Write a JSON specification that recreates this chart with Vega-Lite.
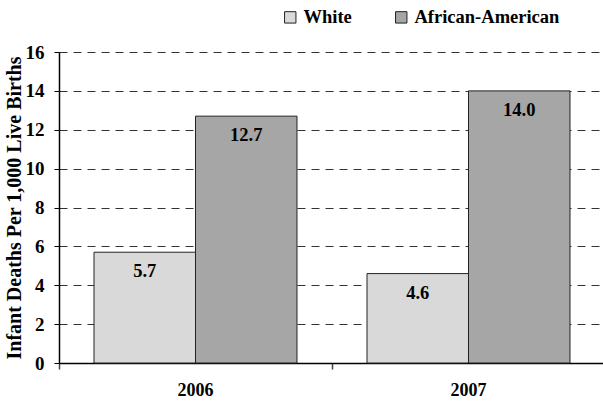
{
  "$schema": "https://vega.github.io/schema/vega-lite/v6.json",
  "width": 546,
  "height": 311,
  "autosize": "none",
  "padding": {"left": 59, "top": 52, "right": 0, "bottom": 38},
  "background": "white",
  "config": {
    "font": "'Liberation Serif', 'Times New Roman', serif",
    "view": {"stroke": null}
  },
  "data": {
    "values": [
      {"year": "2006", "race": "White", "rate": 5.7},
      {"year": "2006", "race": "African-American", "rate": 12.7},
      {"year": "2007", "race": "White", "rate": 4.6},
      {"year": "2007", "race": "African-American", "rate": 14.0}
    ]
  },
  "encoding": {
    "x": {
      "field": "year", "type": "nominal",
      "scale": {"paddingInner": 0, "paddingOuter": 0},
      "axis": {
        "title": null, "labelAngle": 0, "labelFont": "'Liberation Serif', 'Times New Roman', serif", "labelFontWeight": "bold",
        "labelFontSize": 18, "labelColor": "black", "labelPadding": 12,
        "domainColor": "black", "domainWidth": 1.5, "tickColor": "#444", "tickSize": 6, "tickWidth": 1.5,
        "bandPosition": 0, "grid": false
      }
    },
    "xOffset": {
      "field": "race", "type": "nominal",
      "sort": ["White", "African-American"],
      "scale": {"paddingInner": 0, "paddingOuter": 0.345}
    },
    "y": {
      "field": "rate", "type": "quantitative",
      "scale": {"domain": [0, 16]},
      "axis": {
        "title": "Infant Deaths Per 1,000 Live Births",
        "titleFont": "'Liberation Serif', 'Times New Roman', serif", "titleFontSize": 20, "titleFontWeight": "bold", "titleColor": "black",
        "titlePadding": 1,
        "values": [0, 2, 4, 6, 8, 10, 12, 14, 16],
        "labelFont": "'Liberation Serif', 'Times New Roman', serif", "labelFontSize": 19, "labelFontWeight": "bold", "labelColor": "black",
        "labelPadding": 10,
        "domainColor": "black", "domainWidth": 1.5, "tickColor": "black", "tickSize": 5,
        "grid": true, "gridColor": "#333", "gridDash": [8, 6], "gridWidth": 1
      }
    }
  },
  "layer": [
    {
      "mark": {"type": "bar", "stroke": "#222", "strokeWidth": 1},
      "encoding": {
        "color": {
          "field": "race", "type": "nominal",
          "sort": ["White", "African-American"],
          "scale": {"domain": ["White", "African-American"], "range": ["#D9D9D9", "#A6A6A6"]},
          "legend": {
            "title": null, "orient": "none", "legendX": 222, "legendY": -44,
            "direction": "horizontal", "columnPadding": 40,
            "symbolType": "square", "symbolSize": 130, "symbolStrokeColor": "#222", "symbolStrokeWidth": 1,
            "labelFont": "'Liberation Serif', 'Times New Roman', serif", "labelFontSize": 18.5, "labelFontWeight": "bold", "labelColor": "black",
            "labelOffset": 4
          }
        }
      }
    },
    {
      "mark": {"type": "text", "baseline": "top", "dy": 10, "font": "'Liberation Serif', 'Times New Roman', serif", "fontSize": 18.5, "fontWeight": "bold", "color": "black"},
      "encoding": {
        "text": {"field": "rate", "type": "quantitative", "format": ".1f"}
      }
    }
  ]
}
